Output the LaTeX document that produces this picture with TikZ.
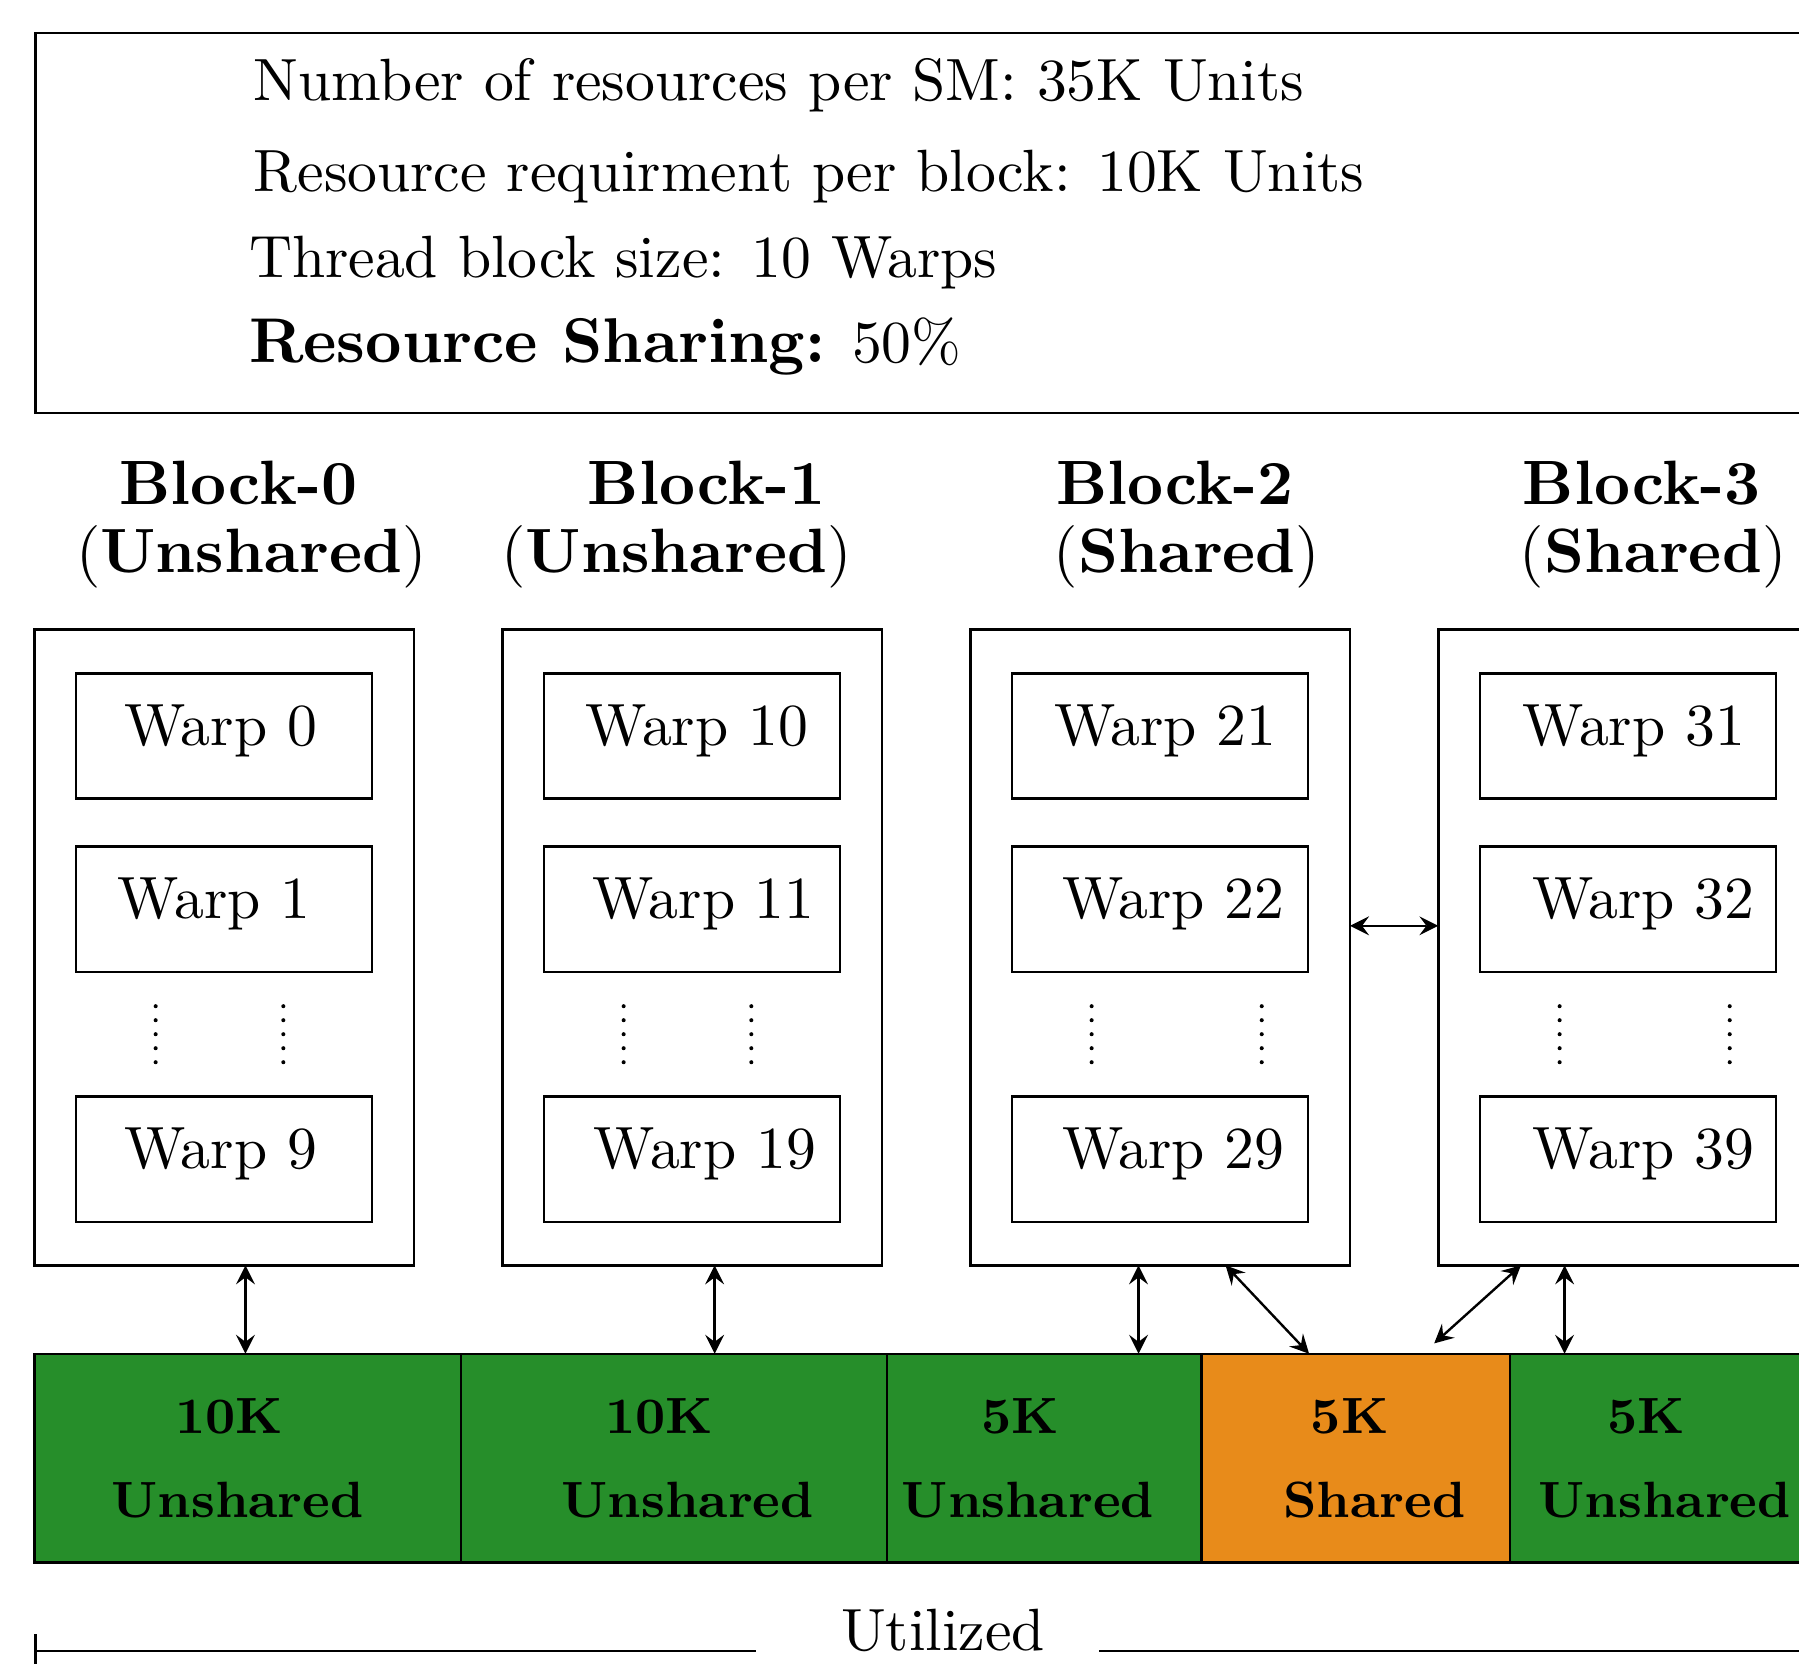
\documentclass[tikz,border=0pt]{standalone}
\usepackage{xcolor}
\usepackage{tikz}
\usetikzlibrary{arrows, positioning, calc}

\definecolor{usedgreen}{RGB}{38,142,42}
\definecolor{sharedorange}{RGB}{232,139,26}

\begin{document}
\begin{tikzpicture}[node distance=0.27cm, >=stealth,
    blockbox/.style={draw, rectangle, outer sep=0pt, minimum width=2.237cm, minimum height=3.745cm},
    warpbox/.style={draw, rectangle, minimum width=1.744cm, minimum height=0.737cm, text depth=3.6pt},
    blocktitle/.style={align=center, font=\fontsize{10.5}{11.4}\selectfont},
    segbox/.style={draw, rectangle, outer sep=0pt, fill=usedgreen, minimum height=1.230cm, align=center, font=\fontsize{8.55}{10.3}\selectfont\bfseries}]
    \useasboundingbox (0,0) rectangle (10.598,9.800);
    \clip (0,0) rectangle (10.598,9.800);

    % SM parameters
    \node (params) [draw, rectangle, minimum width=10.611cm, minimum height=2.237cm, anchor=south west] at (0.203,7.361) {};
    \node (p1) [anchor=base west, inner sep=0pt] at (1.487,9.206) {Number of resources per SM: 35K Units};
    \node (p2) [anchor=base west, inner sep=0pt] at (1.487,8.672) {Resource requirment per block: 10K Units};
    \node (p3) [anchor=base west, inner sep=0pt] at (1.460,8.165) {Thread block size: 10 Warps};
    \node (p4) [anchor=base west, inner sep=0pt] at (1.460,7.665) {{\fontsize{10.6}{12}\selectfont\textbf{Resource Sharing:}} 50\%};

    % thread blocks
    \node (blk0) [blockbox] at (1.321,4.218) {};
    \node (blk1) [blockbox, right=0.52cm of blk0] {};
    \node (blk2) [blockbox, right=0.52cm of blk1] {};
    \node (blk3) [blockbox, right=0.52cm of blk2] {};

    \node (t0) [blocktitle, above=0.12cm of blk0, xshift=0.115cm] {\hspace*{-1.8pt}\textbf{Block-0}\\\hspace*{2.5pt}(\textbf{Unshared})};
    \node (t1) [blocktitle, above=0.12cm of blk1] {\hspace*{4.8pt}\textbf{Block-1}\\\hspace*{-5.2pt}(\textbf{Unshared})};
    \node (t2) [blocktitle, above=0.12cm of blk2, xshift=0.122cm] {\hspace*{-2pt}\textbf{Block-2}\\\hspace*{2pt}(\textbf{Shared})};
    \node (t3) [blocktitle, above=0.12cm of blk3, xshift=0.115cm] {\hspace*{-2.1pt}\textbf{Block-3}\\\hspace*{1.8pt}(\textbf{Shared})};

    % warps
    \node (w0) [warpbox, below=0.25cm of blk0.north] {\hspace*{-1.2pt}Warp 0};
    \node (w1) [warpbox, below=of w0] {\hspace*{-3.4pt}Warp 1};
    \node (w9) [warpbox, above=0.25cm of blk0.south] {\hspace*{-1.2pt}Warp 9};
    \node (w10) [warpbox, below=0.25cm of blk1.north] {\hspace*{1.5pt}Warp 10};
    \node (w11) [warpbox, below=of w10] {\hspace*{3.8pt}Warp 11};
    \node (w19) [warpbox, above=0.25cm of blk1.south] {\hspace*{4.2pt}Warp 19};
    \node (w21) [warpbox, below=0.25cm of blk2.north] {\hspace*{1.7pt}Warp 21};
    \node (w22) [warpbox, below=of w21] {\hspace*{4.4pt}Warp 22};
    \node (w29) [warpbox, above=0.25cm of blk2.south] {\hspace*{4.4pt}Warp 29};
    \node (w31) [warpbox, below=0.25cm of blk3.north] {\hspace*{1.9pt}Warp 31};
    \node (w32) [warpbox, below=of w31] {\hspace*{5pt}Warp 32};
    \node (w39) [warpbox, above=0.25cm of blk3.south] {\hspace*{5pt}Warp 39};

    % dots between the warps
    \foreach \wa/\wb/\dr in {w1/w9/0.348, w11/w19/0.348, w22/w29/0.598, w32/w39/0.598}
        \foreach \dx in {-0.404,\dr}
            \foreach \k in {0,...,4}
                \fill ($(\wa.south)!0.5!(\wb.north)+(\dx,0.165-0.0825*\k)$) circle (0.34pt);

    % resource bar
    \node (s0) [segbox, minimum width=2.514cm, anchor=south west] at (0.203,0.595) {\hspace*{-6.2pt}10K\\[3.7pt]\hspace*{-3.4pt}Unshared};
    \node (s1) [segbox, minimum width=2.508cm, right=0pt of s0] {\hspace*{-5pt}10K\\[3.7pt]\hspace*{4.6pt}Unshared};
    \node (s2) [segbox, minimum width=1.852cm, right=0pt of s1] {\hspace*{-8pt}5K\\[3.7pt]\hspace*{-5.4pt}Unshared};
    \node (s3) [segbox, minimum width=1.818cm, right=0pt of s2, fill=sharedorange] {\hspace*{-2pt}5K\\[3.7pt]\hspace*{6.4pt}Shared};
    \node (s4) [segbox, minimum width=1.825cm, right=0pt of s3] {\hspace*{-6.2pt}5K\\[3.7pt]Unshared};

    \draw [<->] ([xshift=0.125cm]blk0.south) -- ([xshift=0.125cm]blk0.south |- s0.north);
    \draw [<->] ([xshift=0.132cm]blk1.south) -- ([xshift=0.132cm]blk1.south |- s1.north);
    \draw [<->] ([xshift=-0.128cm]blk2.south) -- ([xshift=-0.128cm]blk2.south |- s2.north);
    \draw [<->] ([xshift=0.385cm]blk2.south) -- ([xshift=-0.274cm]s3.north);
    \draw [<->] ([xshift=-0.632cm]blk3.south) -- ([xshift=0.463cm, yshift=0.061cm]s3.north);
    \draw [<->] ([xshift=-0.375cm]blk3.south) -- ([xshift=-0.375cm]blk3.south |- s4.north);
    \draw [<->] ([yshift=0.128cm]blk2.east) -- ([yshift=0.128cm]blk3.west);

    % utilized span
    \node (util) [anchor=base] at (5.556,0.074) {Utilized};
    \coordinate (uL) at (0.203,0.074);
    \coordinate (uR) at (11.0,0.074);
    \draw [|-] (uL) -- ([xshift=-0.38cm]util.west |- uL);
    \draw [-|] ([xshift=0.196cm]util.east |- uL) -- (uR);
\end{tikzpicture}
\end{document}
